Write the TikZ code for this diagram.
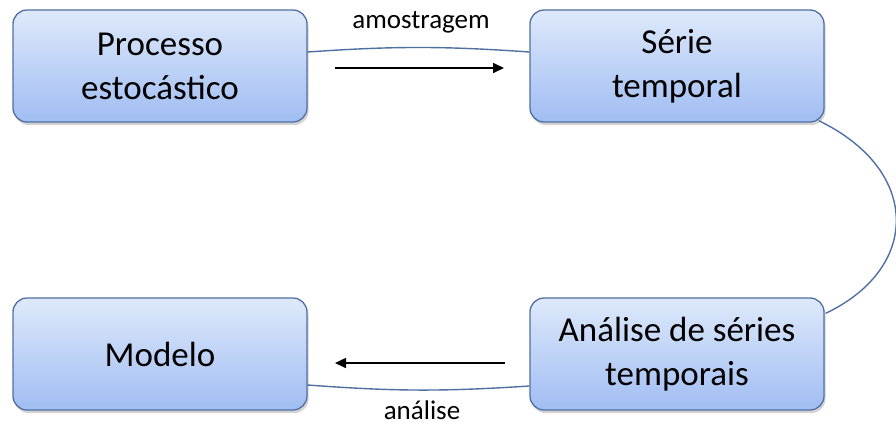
\documentclass[tikz,border=0pt]{standalone}
\usepackage{fontspec}
\setmainfont{Carlito}
\usetikzlibrary{arrows.meta,shadows}
\definecolor{boxtop}{RGB}{222,233,251}
\definecolor{boxbot}{RGB}{160,189,242}
\definecolor{boxline}{RGB}{80,112,162}
\begin{document}
\begin{tikzpicture}[x=1pt,y=-1pt,
  stage/.style={rectangle,rounded corners=14pt,draw=boxline,line width=1.3pt,
    top color=boxtop,bottom color=boxbot,minimum width=294pt,minimum height=112pt,
    align=center,font=\fontsize{35}{44}\selectfont,
    drop shadow={shadow xshift=1.5pt,shadow yshift=-3pt,opacity=0.35}},
  link/.style={draw=boxline,line width=1.4pt},
  flow/.style={draw=black,line width=1.6pt,-{Triangle[length=11pt,width=10pt]}},
  tag/.style={font=\fontsize{27}{32}\selectfont}]
  \useasboundingbox (0,0) rectangle (896,426);
  \node[stage] (proc) at (160,66) {Processo\\estocástico};
  \node[stage] (serie) at (677,66) {Série\\temporal};
  \node[stage] (anal) at (677,354) {Análise de séries\\temporais};
  \node[stage] (mod) at (160,354) {Modelo};

  % connectors between the boxes
  \path[link] ([yshift=14pt]proc.east) to[bend left=4] ([yshift=14pt]serie.west);
  \path[link] ([xshift=-6pt,yshift=2pt]serie.south east)
    .. controls (921,170) and (921,268) .. ([xshift=1pt,yshift=-16pt]anal.north east);
  \path[link] ([yshift=-31pt]mod.east) to[bend right=4] ([yshift=-32pt]anal.west);

  % flow arrows and their labels
  \coordinate (a1) at (335,68);
  \coordinate (a2) at (504,68);
  \coordinate (b1) at (505,363);
  \coordinate (b2) at (335,363);
  \draw[flow] (a1) -- (a2);
  \draw[flow] (b1) -- (b2);
  \node[tag] (amo) at (421,22) {amostragem};
  \node[tag] (ana) at (422,410) {análise};
\end{tikzpicture}
\end{document}
